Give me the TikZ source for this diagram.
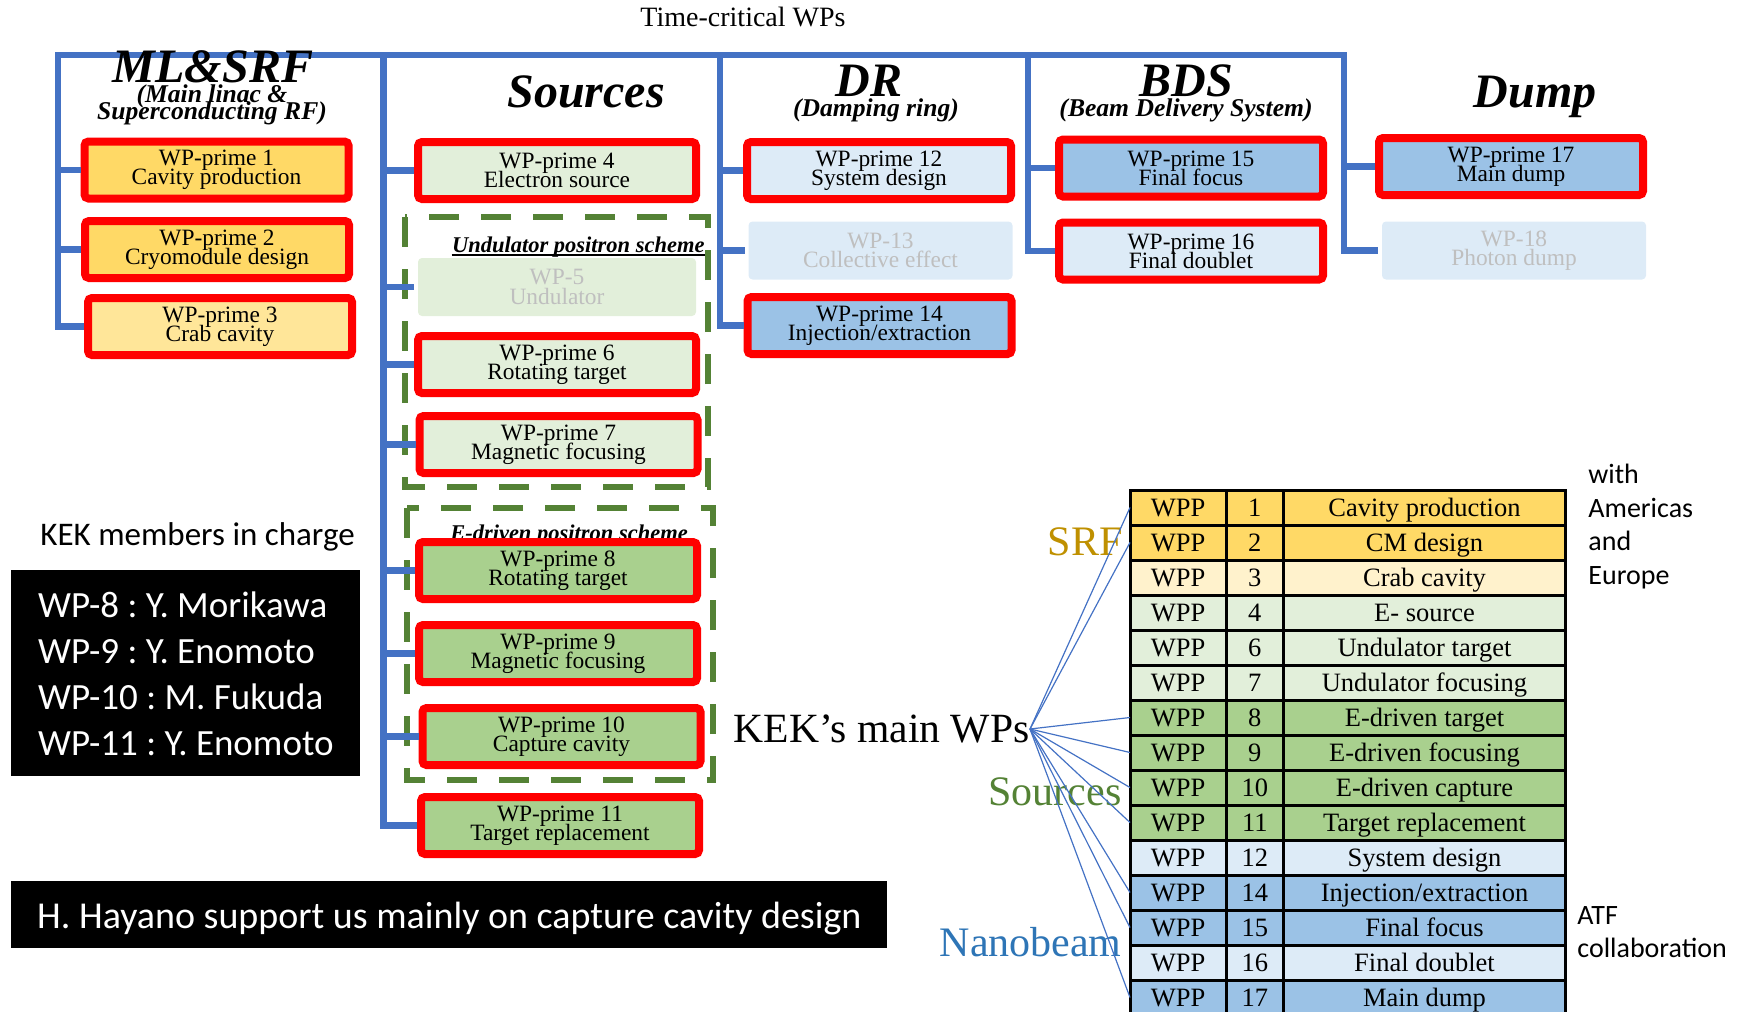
\documentclass[tikz,border=0pt]{standalone}
\usepackage{fontspec}
\setmainfont{Liberation Serif}
\newfontfamily\calibri{Carlito}
\usepackage{tikz}
\setlength{\lineskiplimit}{-100pt}
\setlength{\normallineskiplimit}{-100pt}
\definecolor{spineblue}{HTML}{4472C4}
\definecolor{wpred}{HTML}{FF0000}
\definecolor{wpgold}{HTML}{FFD966}
\definecolor{lightgold}{HTML}{FFE699}
\definecolor{palegold}{HTML}{FFF2CC}
\definecolor{palegreen}{HTML}{E2EFDA}
\definecolor{midgreen}{HTML}{A9D08E}
\definecolor{paleblue}{HTML}{DDEBF7}
\definecolor{midblue}{HTML}{9BC2E6}
\definecolor{schemegreen}{HTML}{548235}
\definecolor{fadedtext}{HTML}{BFBFBF}
\definecolor{srfgold}{HTML}{BF9000}
\definecolor{nanoblue}{HTML}{2E75B6}

\begin{document}
\begin{tikzpicture}[x=0.5pt, y=-0.5pt,
    wpbox/.style={draw=wpred, line width=4pt, rounded corners=2pt, align=center, minimum width=132pt, minimum height=28.5pt, inner sep=0pt, font=\fontsize{11.7}{9.6}\selectfont},
    faded/.style={wpbox, draw=none, text=fadedtext, minimum height=29pt},
    srcbox/.style={minimum width=139pt},
    head/.style={anchor=base, inner sep=0pt, font=\bfseries\itshape\fontsize{24}{24}\selectfont},
    subhead/.style={inner sep=0pt, align=center, font=\bfseries\itshape\fontsize{12.8}{8.5}\selectfont},
    scheme/.style={draw=schemegreen, line width=3pt, dash pattern=on 15pt off 11pt},
    schemelabel/.style={anchor=base, inner sep=0pt, font=\bfseries\itshape\fontsize{11.25}{12}\selectfont},
    spine/.style={draw=spineblue, line width=3.25pt},
    fan/.style={draw=spineblue, line width=0.6pt},
    cell/.style={draw=black, line width=1.5pt, anchor=north west, minimum height=17.5pt, inner sep=0pt, outer sep=0pt, text height=11pt, text depth=2pt, font=\fontsize{13.25}{13.25}\selectfont},
    group/.style={anchor=base east, inner sep=0pt, font=\fontsize{21}{21}\selectfont},
    blackbox/.style={fill=black, text=white, align=left, anchor=north west, inner xsep=11pt, inner ysep=0pt},
    note/.style={inner sep=0pt, align=left, anchor=north west, font=\calibri\fontsize{14}{16.75}\selectfont}
]
\useasboundingbox (0,0) rectangle (1738,1011);
\node[anchor=base, inner sep=0pt, font=\fontsize{14}{14}\selectfont] (title) at (743,27) {Time-critical WPs};

\draw[scheme] (405,217) rectangle (708,487);
\draw[scheme] (407,508) rectangle (713,780);
\node[schemelabel, anchor=base east] (undlabel) at (705,252) {Undulator positron scheme};
\draw[line width=0.8pt] ([yshift=-1.6pt]undlabel.base west) -- ([yshift=-1.6pt]undlabel.base east);
\node[schemelabel] (edrlabel) at (569,540) {E-driven positron scheme};

\node[wpbox, fill=wpgold] (wp1) at (216.5,170) {WP-prime 1\\Cavity production};
\node[wpbox, fill=wpgold] (wp2) at (217,249.5) {WP-prime 2\\Cryomodule design};
\node[wpbox, fill=lightgold] (wp3) at (220,326.5) {WP-prime 3\\Crab cavity};
\node[wpbox, srcbox, fill=palegreen] (wp4) at (557,170.5) {WP-prime 4\\Electron source};
\node[faded, srcbox, fill=palegreen] (wp5) at (557,287) {WP-5\\Undulator};
\node[wpbox, srcbox, fill=palegreen] (wp6) at (557,364.5) {WP-prime 6\\Rotating target};
\node[wpbox, srcbox, fill=palegreen] (wp7) at (558.5,444.5) {WP-prime 7\\Magnetic focusing};
\node[wpbox, srcbox, fill=midgreen] (wp8) at (558,570.5) {WP-prime 8\\Rotating target};
\node[wpbox, srcbox, fill=midgreen] (wp9) at (558,653.5) {WP-prime 9\\Magnetic focusing};
\node[wpbox, srcbox, fill=midgreen] (wp10) at (561.5,736.5) {WP-prime 10\\Capture cavity};
\node[wpbox, srcbox, fill=midgreen] (wp11) at (560,825.5) {WP-prime 11\\Target replacement};
\node[wpbox, fill=paleblue] (wp12) at (879,170.5) {WP-prime 12\\System design};
\node[faded, fill=paleblue] (wp13) at (880.5,250.5) {WP-13\\Collective effect};
\node[wpbox, fill=midblue] (wp14) at (879.5,325.5) {WP-prime 14\\Injection/extraction};
\node[wpbox, fill=midblue] (wp15) at (1191,168) {WP-prime 15\\Final focus};
\node[wpbox, fill=paleblue] (wp16) at (1191,251) {WP-prime 16\\Final doublet};
\node[wpbox, fill=midblue] (wp17) at (1511,166.5) {WP-prime 17\\Main dump};
\node[faded, fill=paleblue] (wp18) at (1514,250.5) {WP-18\\Photon dump};

\coordinate (top) at (58,55);
\coordinate (topend) at (1344,55);
\coordinate (srctop) at (383.5,55);
\coordinate (drtop) at (720,55);
\coordinate (bdstop) at (1028,55);
\draw[spine] (wp3.west) -| (top) -- (topend) |- (wp18.west);
\draw[spine] (wp11.west) -| (srctop);
\draw[spine] (wp14.west) -| (drtop);
\draw[spine] (wp16.west) -| (bdstop);
\foreach \b/\s in {wp1/top, wp2/top, wp4/srctop, wp5/srctop, wp6/srctop, wp7/srctop, wp8/srctop, wp9/srctop, wp10/srctop, wp12/drtop, wp13/drtop, wp15/bdstop, wp17/topend}
  \draw[spine] (\b.west) -- (\b.west -| \s);

\node[head] (mlsrf) at (213,83) {ML\&SRF};
\node[subhead] (mlsrfsub) at (212,105) {(Main linac \&\\Superconducting RF)};
\node[head] (sources) at (586,108) {Sources};
\node[head] (dr) at (869,97) {DR};
\node[subhead, anchor=base] (drsub) at (876,117) {(Damping ring)};
\node[head] (bds) at (1186,97) {BDS};
\node[subhead, anchor=base] (bdssub) at (1186,117) {(Beam Delivery System)};
\node[head] (dump) at (1535,107) {Dump};

\foreach \n/\txt/\clr [count=\k from 0] in {1/Cavity production/wpgold, 2/CM design/wpgold, 3/Crab cavity/palegold, 4/E- source/palegreen, 6/Undulator target/palegreen, 7/Undulator focusing/palegreen, 8/E-driven target/midgreen, 9/E-driven focusing/midgreen, 10/E-driven capture/midgreen, 11/Target replacement/midgreen, 12/System design/paleblue, 14/{Injection/extraction}/midblue, 15/Final focus/midblue, 16/Final doublet/paleblue, 17/Main dump/midblue} {
  \node[cell, fill=\clr, minimum width=48pt] (wpp\n) at (1130,{490+35*\k}) {WPP};
  \node[cell, fill=\clr, minimum width=28.75pt] (num\n) at (1226,{490+35*\k}) {\n};
  \node[cell, fill=\clr, minimum width=141pt] (desc\n) at (1283.5,{490+35*\k}) {\txt};
}

\node[group, text=srfgold] (srf) at (1123,555) {SRF};
\node[group, text=schemegreen] (srcgroup) at (1122,805) {Sources};
\node[group, text=nanoblue] (nano) at (1122,956) {Nanobeam};
\node[anchor=east, inner sep=0pt, font=\fontsize{20.8}{20.8}\selectfont] (kek) at (1030,729) {KEK’s main WPs};
\foreach \n in {1,2,8,9,10,11,14,15,17}
  \draw[fan] (kek.east) -- (wpp\n.west);

\node[note] (partners) at (1588,464) {with\\Americas\\and\\Europe};
\node[note] (atf) at (1577,906) {ATF\\collaboration};

\node[anchor=base west, inner sep=0pt, font=\calibri\fontsize{16.5}{16.5}\selectfont] (incharge) at (40,545) {KEK members in charge};
\node[blackbox, minimum width=174.5pt, minimum height=103pt, font=\calibri\frenchspacing\fontsize{18.5}{23}\selectfont] (members) at (11,570) {WP-8 : Y. Morikawa\\WP-9 : Y. Enomoto\\WP-10 : M. Fukuda\\WP-11 : Y. Enomoto};
\node[blackbox, minimum width=438pt, minimum height=33.5pt, text depth=0pt, font=\calibri\frenchspacing\fontsize{19}{19}\selectfont] (hayano) at (11,881) {H. Hayano support us mainly on capture cavity design};
\end{tikzpicture}
\end{document}
